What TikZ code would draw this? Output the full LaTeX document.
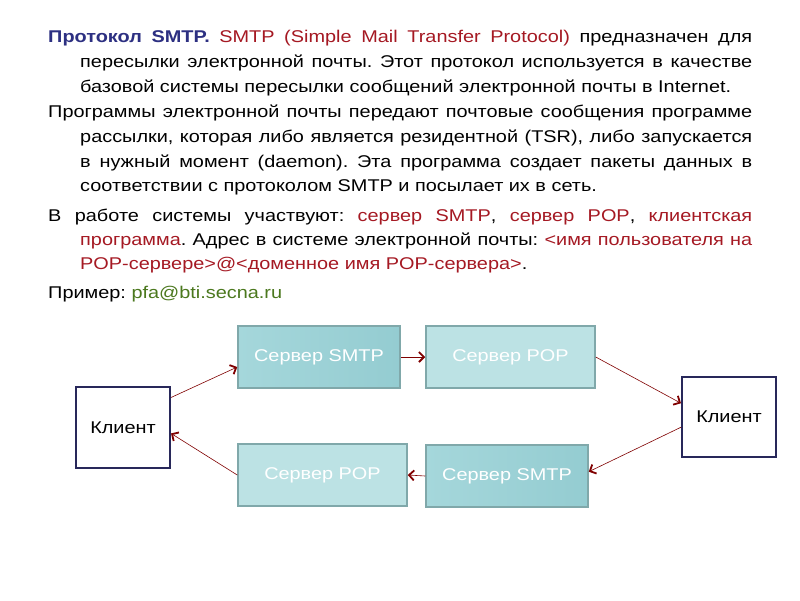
\documentclass[tikz,border=0pt]{standalone}
\usepackage{fontspec}
\setmainfont{Liberation Sans}[FakeStretch=1.17]
\usetikzlibrary{arrows.meta}
\definecolor{tnavy}{RGB}{45,48,130}
\definecolor{tred}{RGB}{165,25,35}
\definecolor{tgreen}{RGB}{75,120,30}
\definecolor{arr}{RGB}{128,0,0}
\definecolor{smtpL}{RGB}{165,215,219}
\definecolor{smtpR}{RGB}{148,204,209}
\definecolor{popfill}{RGB}{188,226,228}
\definecolor{boxline}{RGB}{128,168,170}
\definecolor{cline}{RGB}{40,40,90}
\frenchspacing
\begin{document}
\begin{tikzpicture}[x=1pt,y=-1pt,
  txt/.style={anchor=base west, inner sep=0pt, font=\fontsize{17}{20}\selectfont},
  srv/.style={draw=boxline, line width=1.5pt, minimum height=62pt, inner sep=0pt,
    text=white, font=\fontsize{17}{20}\selectfont},
  smtpbox/.style={srv, minimum width=162pt, left color=smtpL, right color=smtpR},
  popbox/.style={srv, minimum width=169pt, fill=popfill},
  client/.style={draw=cline, line width=2pt, fill=white, minimum width=94pt,
    inner sep=0pt, font=\fontsize{17}{20}\selectfont},
  link/.style={draw=arr, line width=0.6pt,
    -{Straight Barb[length=5pt,width=10pt,line width=1.8pt]}}
]
\useasboundingbox[fill=white] (0,0) rectangle (800,600);

% text
\node[txt] (l1) at (48,42) {\makebox[704pt][s]{\textcolor{tnavy}{\bfseries Протокол SMTP.} \textcolor{tred}{SMTP (Simple Mail Transfer Protocol)} предназначен для}};
\node[txt] (l2) at (80,67) {\makebox[672pt][s]{пересылки электронной почты. Этот протокол используется в качестве}};
\node[txt] (l3) at (80,92) {базовой системы пересылки сообщений электронной почты в Internet.};

\node[txt] (l4) at (48,117) {\makebox[704pt][s]{Программы электронной почты передают почтовые сообщения программе}};
\node[txt] (l5) at (80,142) {\makebox[672pt][s]{рассылки, которая либо является резидентной (TSR), либо запускается}};
\node[txt] (l6) at (80,167) {\makebox[672pt][s]{в нужный момент (daemon). Эта программа создает пакеты данных в}};
\node[txt] (l7) at (80,191) {соответствии с протоколом SMTP и посылает их в сеть.};

\node[txt] (l8) at (48,221) {\makebox[704pt][s]{В работе системы участвуют: \textcolor{tred}{сервер SMTP}, \textcolor{tred}{сервер POP}, \textcolor{tred}{клиентская}}};
\node[txt] (l9) at (80,245) {\makebox[672pt][s]{\textcolor{tred}{программа}. Адрес в системе электронной почты: \textcolor{tred}{<имя пользователя на}}};
\node[txt] (l10) at (80,269) {\textcolor{tred}{POP-сервере>@<доменное имя POP-сервера>}.};

\node[txt] (l11) at (48,298) {Пример: \textcolor{tgreen}{pfa@bti.secna.ru}};

% diagram
\node[client, minimum height=81pt] (c1) at (123,427.5) {Клиент};
\node[client, minimum height=80pt] (c2) at (729,417) {Клиент};
\node[smtpbox] (s1) at (319,357) {Сервер SMTP};
\node[popbox] (p1) at (510.5,357) {Сервер POP};
\node[smtpbox] (s2) at (507,476) {Сервер SMTP};
\node[popbox] (p2) at (322.5,475) {Сервер POP};

\draw[link] (c1.32) -- (s1.187);
\draw[link] (s1.east) -- (p1.west);
\draw[link] (p1.east) -- (c2.164);
\draw[link] (c2.192) -- (s2.3);
\draw[link] (s2.west) -- (p2.east);
\draw[link] (p2.west) -- (c1.-7);
\end{tikzpicture}
\end{document}
